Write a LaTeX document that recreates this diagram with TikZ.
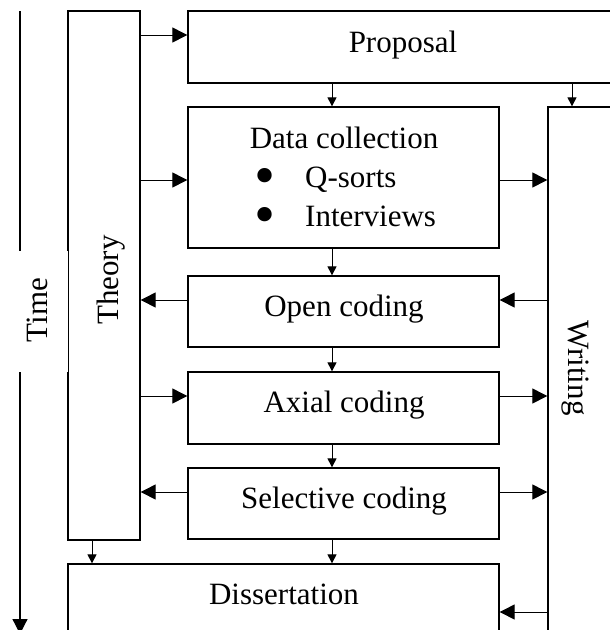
\documentclass[tikz,border=0pt]{standalone}
\usepackage{fontspec}
\setmainfont{Liberation Serif}
\usetikzlibrary{arrows.meta}
\begin{document}
\begin{tikzpicture}[x=1pt,y=-1pt,
  box/.style={draw, line width=1.3pt, rectangle, inner sep=0pt},
  lbl/.style={inner sep=0pt, font=\fontsize{31}{39}\selectfont},
  bul/.style={inner sep=0pt, anchor=base west, text height=16pt, text depth=0pt, font=\fontsize{60}{60}\selectfont},
  big/.style={line width=1pt, -{Triangle[length=15pt,width=15pt]}},
  small/.style={line width=1pt, -{Triangle[length=9pt,width=9pt]}}]
\useasboundingbox (0,0) rectangle (610,630);
\clip (0,0) rectangle (610,630);
% Time axis
\coordinate (ttop) at (20,11);
\coordinate (tbot) at (20,634);
\draw[line width=1.2pt, -{Triangle[length=15pt,width=15pt]}] (ttop) -- (tbot);
% boxes
\node[box, minimum width=72pt, minimum height=529pt] (theory) at (104,275.5) {};
\node[box, minimum width=430pt, minimum height=72pt] (proposal) at (403,47) {};
\node[box, minimum width=311pt, minimum height=141pt] (data) at (343.5,177.5) {};
\node[box, minimum width=72pt, minimum height=533pt] (writing) at (584,373.5) {};
\node[box, minimum width=311pt, minimum height=71pt] (open) at (343.5,311.5) {};
\node[box, minimum width=311pt, minimum height=72pt] (axial) at (343.5,408) {};
\node[box, minimum width=311pt, minimum height=71pt] (selective) at (343.5,503.5) {};
\node[box, minimum width=431pt, minimum height=76pt] (diss) at (283.5,602) {};
% gap for the Time label
\node[fill=white, inner sep=0pt, minimum width=68pt, minimum height=121pt] (timegap) at (34,311.5) {};
% labels
\node[lbl, anchor=base, rotate=90] (timelbl) at (47,310) {Time};
\node[lbl, anchor=base, rotate=90] (theorylbl) at (118,280) {Theory};
\node[lbl, anchor=base, rotate=-90] (writinglbl) at (568,368) {Writing};
\node[lbl, anchor=base] (proplbl) at (403,52) {Proposal};
\node[lbl, anchor=base] (datalbl) at (344,148) {Data collection};
\node[bul] (b1) at (254,187) {\raisebox{-8pt}{•}};
\node[lbl, anchor=base west] (qs) at (305,187) {Q-sorts};
\node[bul] (b2) at (254,226) {\raisebox{-8pt}{•}};
\node[lbl, anchor=base west] (iv) at (305,226) {Interviews};
\node[lbl, anchor=base] (openlbl) at (344,316) {Open coding};
\node[lbl, anchor=base] (axiallbl) at (344,412) {Axial coding};
\node[lbl, anchor=base] (sellbl) at (344,508) {Selective coding};
\node[lbl, anchor=base] (disslbl) at (284,604) {Dissertation};
% horizontal arrows
\draw[big] (theory.east |- 0,35) -- (proposal.west |- 0,35);
\draw[big] (theory.east |- 0,180) -- (data.west |- 0,180);
\draw[big] (open.west |- 0,300) -- (theory.east |- 0,300);
\draw[big] (theory.east |- 0,396) -- (axial.west |- 0,396);
\draw[big] (selective.west |- 0,492) -- (theory.east |- 0,492);
\draw[big] (data.east |- 0,180) -- (writing.west |- 0,180);
\draw[big] (writing.west |- 0,300) -- (open.east |- 0,300);
\draw[big] (axial.east |- 0,396) -- (writing.west |- 0,396);
\draw[big] (selective.east |- 0,492) -- (writing.west |- 0,492);
\draw[big] (writing.west |- 0,612) -- (diss.east |- 0,612);
% vertical arrows
\draw[small] (proposal.south -| 332,0) -- (data.north -| 332,0);
\draw[small] (proposal.south -| 572,0) -- (writing.north -| 572,0);
\draw[small] (data.south -| 332,0) -- (open.north -| 332,0);
\draw[small] (open.south -| 332,0) -- (axial.north -| 332,0);
\draw[small] (axial.south -| 332,0) -- (selective.north -| 332,0);
\draw[small] (selective.south -| 332,0) -- (diss.north -| 332,0);
\draw[small] (theory.south -| 92,0) -- (diss.north -| 92,0);
\end{tikzpicture}
\end{document}
